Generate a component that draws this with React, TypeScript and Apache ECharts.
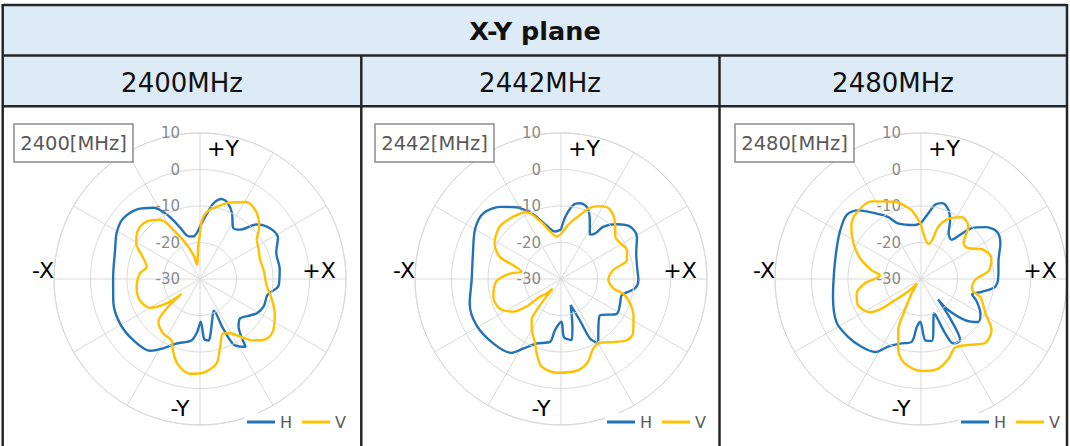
import React, { useEffect, useRef } from "react";
import * as echarts from "echarts";

// ---------- data ----------
const TITLE = "X-Y plane";
const FREQS = ["2400", "2442", "2480"];
const SERIES_NAMES = ["H", "V"];
const RADIUS_MIN = -30;
const RADIUS_MAX = 10;
const RADIUS_STEP = 10;
const AXIS_LABELS = { top: "+Y", bottom: "-Y", left: "-X", right: "+X" };

// angles: degrees clockwise from +Y ; values: dB
const h2400Angles = [0, 6, 10, 15, 20, 26, 33, 39, 46, 54, 62, 71, 83, 95, 103, 113, 121, 128, 135, 141, 144, 146, 149, 153, 155, 156.5, 164, 169, 172, 176, 179, 183, 188, 200, 208, 215, 227, 241, 256, 271, 289, 299, 308, 318, 327, 334, 339, 345, 351, 356];
const h2400Values = [-15.6, -12, -9, -7.3, -7.8, -10, -13.3, -12.6, -8.5, -6.3, -5.8, -7.9, -8, -8.4, -11, -11, -11.8, -13.5, -14.6, -13.2, -11, -7.6, -8.4, -10, -15, -20.5, -18, -14.8, -13, -13.5, -18.3, -15.5, -13, -11.2, -8.5, -6, -5.2, -4.9, -5.5, -6.2, -5.4, -3.9, -3.2, -4.3, -6.7, -11, -15, -17.9, -18.2, -17.4];

const v2400Angles = [0, 2, 6, 13, 21, 31, 40, 49, 55, 63, 72, 82, 96, 106, 115, 125, 132, 139, 145, 151, 157, 164, 169, 178, 186, 195, 201, 205, 214, 224, 228, 231, 234, 240, 251, 263, 275, 283, 291, 299, 308, 317, 326, 333, 340, 345, 349, 353, 357];
const v2400Values = [-17.4, -13.8, -11.5, -9.7, -7.6, -5.4, -6, -8.5, -11, -12, -12.7, -12.4, -11.6, -9.5, -7.4, -5.5, -5.5, -7.7, -10.7, -13, -13.8, -10.2, -6.4, -4.3, -3.9, -6, -9.2, -11.5, -12, -13.6, -17, -23.5, -18.5, -14.2, -12.5, -12.5, -13.4, -15, -13.2, -10, -8.4, -8.5, -10.4, -15.9, -20.6, -23.5, -26, -24.5, -21];

const h2442Angles = [0, 4, 9.5, 14, 20, 26, 33, 37, 39, 45.5, 53, 61, 71, 81, 91, 97, 105, 112, 122, 133, 144, 150, 154, 155.5, 159.6, 166.6, 170, 177, 179.5, 186.7, 190, 200.7, 208.5, 214, 226, 241, 255, 269, 286, 300, 310, 320, 328, 337, 345, 353];
const h2442Values = [-16.5, -12.9, -9.4, -8.6, -9.1, -12, -15.5, -14.3, -11.5, -8.6, -6.2, -6.2, -8.2, -8.9, -8.8, -9.5, -12.8, -12.5, -12, -15.4, -12.6, -9.6, -11.9, -17.5, -22.4, -16.5, -13, -14, -18.3, -15.9, -12.5, -11.1, -8.3, -5.6, -4.4, -3.6, -4.1, -5.5, -4.9, -2.8, -2.1, -4.2, -6.8, -10.9, -14.9, -16.9];

const v2442Angles = [0, 9, 16.5, 22, 28, 35, 44, 52, 59, 66, 74, 80, 91, 100, 103.5, 109.5, 117.5, 127, 133, 140, 148.5, 155, 163, 172, 182.6, 192.4, 198, 202.5, 210, 215.6, 218, 219.5, 221, 226, 230, 231.5, 235.6, 244, 255, 268, 276, 280.6, 286, 290, 298, 310.6, 322.6, 332.7, 340, 347, 354];
const v2442Values = [-17.7, -14.5, -11.7, -9, -7.4, -6.7, -8.7, -11.1, -11, -10.3, -11.2, -15.4, -17, -15.4, -12.4, -9.9, -7.6, -5.3, -5.4, -7.5, -9.5, -9, -5.8, -4.4, -4.3, -5.4, -8.5, -11.3, -14, -16.2, -19.2, -23, -26.5, -24, -22.5, -17.9, -14.2, -11.4, -10.8, -12.3, -15.9, -19, -16.4, -12.1, -9.4, -7.9, -8.5, -9.4, -13, -16.6, -18.3];

const h2480Angles = [0, 6.4, 10.7, 15.7, 21.6, 26.4, 31, 38, 42, 45, 51, 58, 66, 76, 88, 96, 102, 106.5, 112, 120, 127, 133, 138.6, 140, 144, 147.4, 153.3, 156, 158, 160, 166.4, 170, 176, 181, 185, 188.5, 198, 206, 212, 221, 231.6, 243, 258.6, 273.7, 289, 300, 310.7, 317.5, 325, 332, 337, 345, 353.7];
const h2480Values = [-14.7, -11.9, -9.3, -8.4, -9.6, -12.1, -15.3, -16.4, -13.2, -10.3, -7.4, -5.5, -6.2, -8.1, -8.8, -9.6, -13, -15.4, -13.5, -11.2, -10.4, -13.5, -18.6, -22.7, -15.5, -10.1, -10.2, -13.7, -19.3, -20, -15.6, -12.8, -13.2, -18.3, -16.8, -12.6, -11.4, -9.4, -6.4, -5.3, -4.5, -4, -5.4, -6.1, -5.5, -4.3, -3.1, -4.5, -8, -10.7, -13.4, -14.6, -15.1];

const v2480Angles = [0, 3, 11.8, 16.2, 18.3, 24.5, 33.4, 42, 50, 57, 64, 73.6, 83, 91, 102, 107, 118, 126, 135, 144, 153.5, 161, 169, 179.6, 190.7, 197.7, 204, 207, 213, 222, 226, 231, 233, 237, 247.5, 257, 265.6, 275, 280, 289, 298, 307, 315.6, 327.5, 341, 352, 357];
const v2480Values = [-15, -17.5, -20.2, -18.8, -14.9, -11.9, -9.7, -10.6, -14.8, -14.5, -11.4, -9.9, -11.3, -15.2, -15.7, -13, -10, -6.1, -5.2, -7.7, -9, -6.9, -5, -4.8, -6.4, -9.5, -14.7, -19.4, -25.3, -28.3, -25, -20.8, -16.5, -13.3, -11.3, -11.9, -14.6, -18.7, -16.3, -12.3, -9, -6.1, -4.7, -4.8, -7.6, -10.9, -13.6];

const PATTERNS = [
  { h: [h2400Angles, h2400Values], v: [v2400Angles, v2400Values] },
  { h: [h2442Angles, h2442Values], v: [v2442Angles, v2442Values] },
  { h: [h2480Angles, h2480Values], v: [v2480Angles, v2480Values] },
];

// ---------- styling / layout ----------
const FONT = '"DejaVu Sans", "Noto Sans", sans-serif';
const BLUE = "#2272B8";
const YELLOW = "#FFC000";
const GRID = "#D9D9D9";
const HEADER_BG = "#DDEBF7";
const BORDER = "#262626";
const CENTERS_X = [200, 561, 921];
const LEGEND_RIGHT = [722, 362, 8];
const CENTER_Y = 279;
const RADIUS = 146;

function toPolar(angles: number[], values: number[]) {
  const pts = angles.map((a, i) => [values[i], a]);
  pts.push([values[0], angles[0] + 360]);
  return pts;
}

export default function App() {
  const ref = useRef<HTMLDivElement>(null);
  useEffect(() => {
    if (!ref.current) return;
    const chart = echarts.init(ref.current, undefined, { renderer: "svg" });

    const graphic: any[] = [];
    graphic.push({ type: "rect", z: -10, shape: { x: 3, y: 5, width: 1064, height: 101 }, style: { fill: HEADER_BG } });
    const line = (x1: number, y1: number, x2: number, y2: number) => ({
      type: "line", z: 50, shape: { x1, y1, x2, y2 }, style: { stroke: BORDER, lineWidth: 2.5 },
    });
    graphic.push(line(3, 5, 1067, 5));
    graphic.push(line(3, 55.5, 1067, 55.5));
    graphic.push(line(3, 106.3, 1067, 106.3));
    graphic.push(line(2.7, 4, 2.7, 446));
    graphic.push(line(1067, 4, 1067, 446));
    graphic.push(line(361.3, 55.5, 361.3, 446));
    graphic.push(line(719.5, 55.5, 719.5, 446));
    graphic.push({ type: "text", z: 50, x: 535, y: 31, style: { text: TITLE, fontSize: 25.5, fontWeight: "bold", fontFamily: FONT, fill: "#111", align: "center", verticalAlign: "middle" } });
    const colMid = [182, 540, 893];
    FREQS.forEach((f, i) => {
      graphic.push({ type: "text", z: 50, x: colMid[i], y: 83, style: { text: f + "MHz", fontSize: 26, fontFamily: FONT, fill: "#111", align: "center", verticalAlign: "middle" } });
      const cx = CENTERS_X[i];
      graphic.push({ type: "rect", z: 20, shape: { x: cx - 186, y: 124, width: 119, height: 38 }, style: { fill: "#fff", stroke: "#8c8c8c", lineWidth: 1.5 } });
      graphic.push({ type: "text", z: 21, x: cx - 126.5, y: 143, style: { text: f + "[MHz]", fontSize: 19.5, fontFamily: FONT, fill: "#595959", align: "center", verticalAlign: "middle" } });
      const lbl = (t: string, dx: number, dy: number) => ({ type: "text", z: 20, x: cx + dx, y: CENTER_Y + dy, style: { text: t, fontSize: 22, fontFamily: FONT, fill: "#000", align: "center", verticalAlign: "middle" } });
      graphic.push(lbl(AXIS_LABELS.top, 23, -131));
      graphic.push(lbl(AXIS_LABELS.bottom, -20, 129));
      graphic.push(lbl(AXIS_LABELS.left, -157, -9));
      graphic.push(lbl(AXIS_LABELS.right, 119, -9));
    });

    const polar = CENTERS_X.map((cx) => ({ center: [cx, CENTER_Y], radius: RADIUS }));
    const angleAxis = CENTERS_X.map((_, i) => ({
      polarIndex: i, type: "value", min: 0, max: 360, interval: 30, startAngle: 90, clockwise: true,
      axisLine: { show: true, lineStyle: { color: GRID, width: 1 } },
      axisTick: { show: false }, axisLabel: { show: false },
      splitLine: { show: true, lineStyle: { color: GRID, width: 1 } },
    }));
    const radiusAxis = CENTERS_X.map((_, i) => ({
      polarIndex: i, type: "value", min: RADIUS_MIN, max: RADIUS_MAX, interval: RADIUS_STEP,
      axisLine: { show: false }, axisTick: { show: false },
      axisLabel: { show: true, color: "#8a8a8a", fontSize: 15, fontFamily: FONT, margin: 20 },
      splitLine: { show: true, lineStyle: { color: GRID, width: 1 } },
      z: 3,
    }));
    const series: any[] = [];
    PATTERNS.forEach((p, i) => {
      [p.h, p.v].forEach((d, k) => {
        series.push({
          type: "line", coordinateSystem: "polar", polarIndex: i, name: SERIES_NAMES[k],
          data: toPolar(d[0], d[1]), showSymbol: false, symbol: "none", smooth: 0.3, clip: false,
          lineStyle: { color: k === 0 ? BLUE : YELLOW, width: 2.4 },
          itemStyle: { color: k === 0 ? BLUE : YELLOW }, silent: true, z: 2 + k,
        });
      });
    });
    const legend = LEGEND_RIGHT.map((r) => ({
      data: SERIES_NAMES, right: r, top: 413, icon: "rect", itemWidth: 28, itemHeight: 3, itemGap: 10,
      textStyle: { color: "#595959", fontSize: 16, fontFamily: FONT }, backgroundColor: "#fff", padding: [1, 2],
      selectedMode: false,
    }));

    chart.setOption({
      animation: false,
      backgroundColor: "#fff",
      polar, angleAxis, radiusAxis, series, legend, graphic,
    });
    return () => chart.dispose();
  }, []);
  return <div ref={ref} style={{ position: "absolute", left: 0, top: 0, width: 1070, height: 446 }} />;
}
